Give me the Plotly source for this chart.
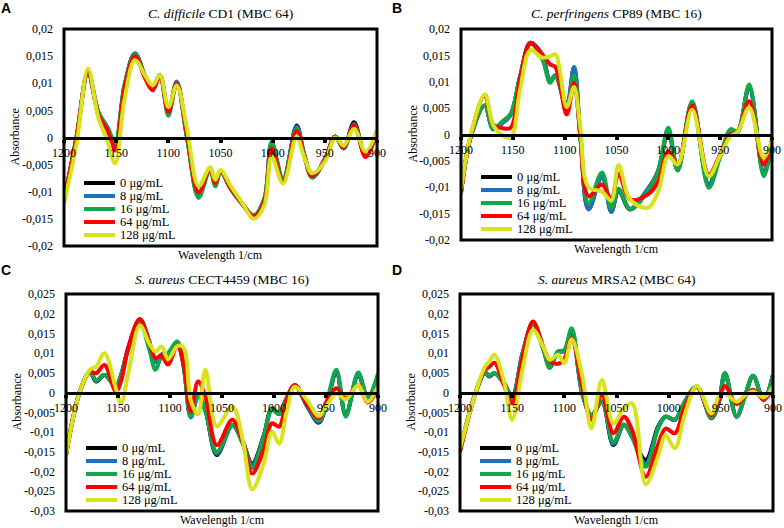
import plotly.graph_objects as go

W, H = 784, 528

conc_labels = ["0 μg/mL", "8 μg/mL", "16 μg/mL", "64 μg/mL", "128 μg/mL"]
line_colors = ["#000000", "#1f6fbf", "#12a84a", "#ff0000", "#d7e41c"]

titles = ["<i>C. difficile</i> CD1 (MBC 64)", "<i>C. perfringens</i> CP89 (MBC 16)",
          "<i>S. aureus</i> CECT4459 (MBC 16)", "<i>S. aureus</i> MRSA2 (MBC 64)"]
letters = ["A", "B", "C", "D"]

x_ticks = [1200, 1150, 1100, 1050, 1000, 950, 900]
y_ticks_ab = [0.02, 0.015, 0.01, 0.005, 0, -0.005, -0.01, -0.015, -0.02]
y_text_ab = ["0,02", "0,015", "0,01", "0,005", "0", "-0,005", "-0,01", "-0,015", "-0,02"]
y_ticks_cd = [0.025, 0.02, 0.015, 0.01, 0.005, 0, -0.005, -0.01, -0.015, -0.02, -0.025, -0.03]
y_text_cd = ["0,025", "0,02", "0,015", "0,01", "0,005", "0", "-0,005", "-0,01", "-0,015",
             "-0,02", "-0,025", "-0,03"]

# A - C. difficile CD1
wave_a = [1200, 1188, 1177, 1167, 1158, 1151, 1142, 1132, 1122, 1115, 1108, 1100, 1092, 1082, 1071, 1060, 1055,
          1050, 1040, 1030, 1018, 1008, 1001, 990, 977, 970, 962, 950, 940, 932, 922, 911, 900]
a_0 = [-0.0115, 0.0, 0.0120, 0.0046, 0.0016, -0.0017, 0.0095, 0.0155, 0.0112, 0.0091, 0.0115, 0.0047, 0.0102, 0.0,
       -0.0106, -0.0057, -0.0086, -0.0062, -0.0095, -0.0120, -0.0145, -0.0115, -0.0013, -0.0080, 0.0022, -0.0030,
       -0.0073, -0.0040, 0.0002, -0.0020, 0.0028, -0.0034, 0.0012]
a_8 = [-0.0115, 0.0, 0.0120, 0.0046, 0.0016, -0.0015, 0.0095, 0.0155, 0.0111, 0.0091, 0.0114, 0.0046, 0.0103, 0.0,
       -0.0107, -0.0057, -0.0087, -0.0062, -0.0095, -0.0121, -0.0144, -0.0114, -0.0011, -0.0078, 0.0020, -0.0030,
       -0.0074, -0.0040, 0.0002, -0.0020, 0.0025, -0.0033, 0.0012]
a_16 = [-0.0116, 0.0, 0.0119, 0.0046, 0.0018, -0.0008, 0.0097, 0.0153, 0.0110, 0.0090, 0.0113, 0.0040, 0.0100,
        -0.0002, -0.0111, -0.0058, -0.0090, -0.0063, -0.0094, -0.0120, -0.0143, -0.0112, -0.0008, -0.0075, 0.0015,
        -0.0030, -0.0073, -0.0041, 0.0002, -0.0020, 0.0022, -0.0031, 0.0012]
a_64 = [-0.0117, 0.0, 0.0121, 0.0042, 0.0012, -0.0024, 0.0090, 0.0150, 0.0108, 0.0087, 0.0113, 0.0047, 0.0099,
        0.0004, -0.0101, -0.0057, -0.0084, -0.0062, -0.0094, -0.0120, -0.0146, -0.0118, -0.0020, -0.0082, 0.0012,
        -0.0032, -0.0071, -0.0042, 0.0001, -0.0018, 0.0022, -0.0036, 0.0012]
a_128 = [-0.0122, -0.0012, 0.0127, 0.0036, -0.0008, -0.0048, 0.0070, 0.0143, 0.0113, 0.0096, 0.0115, 0.0056, 0.0096,
         0.0015, -0.0090, -0.0055, -0.0078, -0.0060, -0.0090, -0.0118, -0.0150, -0.0125, -0.0035, -0.0085, 0.0002,
         -0.0035, -0.0066, -0.0045, 0.0000, -0.0015, 0.0016, -0.0026, 0.0013]

# B - C. perfringens CP89
wave_b = [1200, 1190, 1177, 1169, 1160, 1152, 1143, 1133, 1122, 1114, 1109, 1098, 1091, 1085, 1077, 1064, 1055,
          1048, 1037, 1020, 1010, 1000, 991, 977, 961, 950, 940, 933, 922, 908, 900]
b_0 = [-0.0110, 0.0, 0.0055, 0.0010, 0.0022, 0.0038, 0.0110, 0.0174, 0.0152, 0.0101, 0.0112, 0.0057, 0.0127, 0.0,
       -0.0141, -0.0080, -0.0146, -0.0106, -0.0142, -0.0106, -0.0070, 0.0006, -0.0068, 0.0060, -0.0095, -0.0040,
       0.0000, 0.0005, 0.0090, -0.0073, -0.0010]
b_8 = [-0.0110, 0.0, 0.0055, 0.0010, 0.0022, 0.0038, 0.0110, 0.0174, 0.0151, 0.0102, 0.0112, 0.0056, 0.0128, 0.0,
       -0.0142, -0.0079, -0.0147, -0.0105, -0.0141, -0.0103, -0.0070, 0.0007, -0.0067, 0.0060, -0.0094, -0.0040,
       0.0000, 0.0005, 0.0090, -0.0072, -0.0010]
b_16 = [-0.0112, 0.0, 0.0055, 0.0012, 0.0025, 0.0040, 0.0110, 0.0172, 0.0145, 0.0098, 0.0112, 0.0050, 0.0113,
        -0.0002, -0.0130, -0.0072, -0.0140, -0.0103, -0.0141, -0.0108, -0.0070, 0.0013, -0.0068, 0.0063, -0.0101,
        -0.0042, 0.0010, 0.0006, 0.0095, -0.0079, -0.0010]
b_64 = [-0.0108, 0.0002, 0.0075, 0.0019, 0.0012, 0.0013, 0.0105, 0.0173, 0.0153, 0.0133, 0.0128, 0.0038, 0.0098,
        0.0002, -0.0117, -0.0095, -0.0123, -0.0074, -0.0123, -0.0114, -0.0090, -0.0032, -0.0057, 0.0055, -0.0076,
        -0.0038, 0.0000, 0.0005, 0.0063, -0.0057, -0.0010]
b_128 = [-0.0104, 0.0004, 0.0076, 0.0018, -0.0002, -0.0006, 0.0085, 0.0160, 0.0146, 0.0148, 0.0152, 0.0052, 0.0090,
         0.0015, -0.0100, -0.0108, -0.0125, -0.0058, -0.0123, -0.0139, -0.0110, -0.0041, -0.0057, 0.0047, -0.0079,
         -0.0040, -0.0003, 0.0005, 0.0051, -0.0044, -0.0010]

# C - S. aureus CECT4459
wave_c = [1200, 1187, 1177, 1171, 1163, 1152, 1147, 1140, 1129, 1120, 1114, 1108, 1102, 1093, 1087, 1080, 1073,
          1066, 1055, 1040, 1030, 1021, 1010, 1002, 995, 988, 980, 968, 957, 950, 940, 931, 919, 910, 900]
c_0 = [-0.0158, 0.0, 0.0053, 0.0028, 0.0045, 0.0017, 0.0045, 0.0115, 0.0186, 0.0130, 0.0079, 0.0097, 0.0090, 0.0125,
       0.0070, -0.0061, -0.0008, -0.0045, -0.0158, -0.0082, -0.0125, -0.0180, -0.0110, -0.0040, -0.0054, -0.0015,
       0.0019, -0.0035, -0.0076, -0.0035, 0.0050, -0.0055, 0.0045, -0.0010, 0.0035]
c_8 = [-0.0158, 0.0, 0.0053, 0.0029, 0.0045, 0.0016, 0.0045, 0.0114, 0.0184, 0.0128, 0.0077, 0.0096, 0.0092, 0.0126,
       0.0070, -0.0063, -0.0008, -0.0045, -0.0155, -0.0083, -0.0127, -0.0184, -0.0112, -0.0042, -0.0054, -0.0015,
       0.0019, -0.0034, -0.0074, -0.0034, 0.0052, -0.0057, 0.0047, -0.0012, 0.0040]
c_16 = [-0.0158, 0.0, 0.0053, 0.0032, 0.0045, 0.0015, 0.0045, 0.0110, 0.0176, 0.0110, 0.0058, 0.0092, 0.0100,
        0.0130, 0.0070, -0.0060, -0.0008, -0.0045, -0.0150, -0.0082, -0.0130, -0.0192, -0.0113, -0.0044, -0.0054,
        -0.0015, 0.0019, -0.0030, -0.0070, -0.0030, 0.0058, -0.0061, 0.0051, -0.0014, 0.0049]
c_64 = [-0.0158, 0.0, 0.0053, 0.0049, 0.0070, 0.0003, 0.0030, 0.0115, 0.0186, 0.0128, 0.0088, 0.0093, 0.0071,
        0.0119, 0.0075, -0.0048, 0.0028, -0.0010, -0.0133, -0.0069, -0.0125, -0.0205, -0.0145, -0.0078, -0.0086,
        -0.0020, 0.0019, -0.0030, -0.0065, -0.0025, 0.0011, -0.0014, 0.0019, -0.0025, 0.0010]
c_128 = [-0.0158, 0.0, 0.0058, 0.0066, 0.0100, 0.0010, -0.0027, 0.0050, 0.0170, 0.0125, 0.0104, 0.0117, 0.0085,
         0.0118, 0.0115, -0.0020, -0.0055, 0.0058, -0.0085, -0.0035, -0.0120, -0.0245, -0.0180, -0.0099, -0.0129,
         -0.0050, 0.0015, -0.0020, -0.0060, -0.0035, -0.0002, -0.0017, 0.0019, -0.0023, 0.0015]

# D - S. aureus MRSA2
wave_d = [1200, 1185, 1176, 1172, 1167, 1158, 1150, 1140, 1130, 1120, 1114, 1106, 1100, 1093, 1083, 1074, 1064,
          1053, 1043, 1035, 1022, 1010, 1003, 994, 985, 973, 959, 952, 946, 935, 927, 919, 909, 900]
d_0 = [-0.0145, 0.0, 0.0051, 0.0041, 0.0049, 0.0025, -0.0010, 0.0100, 0.0176, 0.0110, 0.0066, 0.0104, 0.0105,
       0.0155, 0.0, -0.0057, -0.0023, -0.0133, -0.0082, -0.0110, -0.0171, -0.0085, -0.0061, -0.0069, -0.0025, 0.0015,
       -0.0065, -0.0025, 0.0049, -0.0061, -0.0010, 0.0042, -0.0019, 0.0045]
d_8 = [-0.0145, 0.0, 0.0051, 0.0042, 0.0050, 0.0025, -0.0012, 0.0100, 0.0175, 0.0110, 0.0065, 0.0104, 0.0106,
       0.0158, 0.0, -0.0058, -0.0023, -0.0130, -0.0082, -0.0112, -0.0180, -0.0088, -0.0061, -0.0069, -0.0025, 0.0015,
       -0.0064, -0.0024, 0.0049, -0.0061, -0.0010, 0.0043, -0.0019, 0.0045]
d_16 = [-0.0145, 0.0, 0.0052, 0.0043, 0.0050, 0.0024, -0.0019, 0.0098, 0.0172, 0.0108, 0.0062, 0.0103, 0.0108,
        0.0163, 0.0002, -0.0058, -0.0022, -0.0125, -0.0080, -0.0114, -0.0188, -0.0090, -0.0061, -0.0068, -0.0025,
        0.0015, -0.0063, -0.0024, 0.0049, -0.0061, -0.0010, 0.0042, -0.0019, 0.0045]
d_64 = [-0.0150, 0.0, 0.0058, 0.0065, 0.0076, 0.0020, -0.0027, 0.0090, 0.0180, 0.0115, 0.0080, 0.0073, 0.0085,
        0.0138, 0.0020, -0.0069, -0.0006, -0.0103, -0.0061, -0.0095, -0.0213, -0.0130, -0.0091, -0.0103, -0.0040,
        0.0015, -0.0057, -0.0020, 0.0017, -0.0029, -0.0010, 0.0007, -0.0017, 0.0011]
d_128 = [-0.0141, 0.0, 0.0066, 0.0078, 0.0096, 0.0030, -0.0069, 0.0060, 0.0159, 0.0115, 0.0083, 0.0096, 0.0075,
         0.0135, 0.0045, -0.0090, 0.0032, -0.0078, -0.0040, -0.0027, -0.0232, -0.0160, -0.0108, -0.0141, -0.0060,
         0.0017, -0.0053, -0.0010, -0.0002, -0.0023, -0.0008, 0.0003, -0.0012, 0.0015]

panels = [
    (wave_a, [a_0, a_8, a_16, a_64, a_128]),
    (wave_b, [b_0, b_8, b_16, b_64, b_128]),
    (wave_c, [c_0, c_8, c_16, c_64, c_128]),
    (wave_d, [d_0, d_8, d_16, d_64, d_128]),
]

# plot frames in pixels: left, top, right, bottom
boxes = [(64, 29, 377, 246), (461, 29, 772, 240), (66, 294, 378, 511), (460, 294, 773, 511)]
letter_pos = [(6, 8), (397, 8), (6, 270), (397, 270)]

SERIF = "Liberation Serif"
SANS = "Liberation Sans"

fig = go.Figure()
layout = {}
shapes = []
annotations = []

for i, (waves, series) in enumerate(panels):
    n = i + 1
    xa = "x" if n == 1 else f"x{n}"
    ya = "y" if n == 1 else f"y{n}"
    l, t, r, b = boxes[i]
    xdom = [l / W, r / W]
    ydom = [1 - b / H, 1 - t / H]
    if i < 2:
        yr, yv, yt = [-0.02, 0.02], y_ticks_ab, y_text_ab
    else:
        yr, yv, yt = [-0.03, 0.025], y_ticks_cd, y_text_cd
    zero_pos = ydom[0] + (0 - yr[0]) / (yr[1] - yr[0]) * (ydom[1] - ydom[0])

    for k, vals in enumerate(series):
        fig.add_trace(go.Scatter(
            x=waves, y=vals, mode="lines", name=conc_labels[k],
            line=dict(color=line_colors[k], width=4, shape="spline", smoothing=1.0),
            xaxis=xa, yaxis=ya, showlegend=False, hoverinfo="skip"))

    layout["xaxis" if n == 1 else f"xaxis{n}"] = dict(
        domain=xdom, range=[1200, 900], anchor="free", position=zero_pos, automargin=False,
        showline=True, linecolor="black", linewidth=3, showgrid=False, zeroline=False,
        tickvals=x_ticks, ticks="outside", ticklen=3, tickwidth=4, tickcolor="black",
        tickfont=dict(family=SERIF, size=12, color="black"))
    layout["yaxis" if n == 1 else f"yaxis{n}"] = dict(
        domain=ydom, range=yr, anchor=xa, automargin=False, showline=False, showgrid=False, zeroline=False,
        tickvals=yv, ticktext=yt, ticks="", ticklabelstandoff=10,
        tickfont=dict(family=SERIF, size=12, color="black"))

    # frame
    shapes.append(dict(type="rect", xref=f"{xa} domain", yref=f"{ya} domain", x0=0, x1=1, y0=0, y1=1,
                       line=dict(color="black", width=3), layer="above"))

    cx = (xdom[0] + xdom[1]) / 2
    annotations.append(dict(text=titles[i], x=cx, y=1 - (t - 15) / H, xref="paper", yref="paper",
                            xanchor="center", yanchor="middle", showarrow=False,
                            font=dict(family=SERIF, size=13.5, color="black")))
    annotations.append(dict(text="Wavelength 1/cm", x=cx, y=1 - (b + 9) / H, xref="paper", yref="paper",
                            xanchor="center", yanchor="middle", showarrow=False,
                            font=dict(family=SERIF, size=12, color="black")))
    annotations.append(dict(text="Absorbance", x=(l - 49) / W, y=(ydom[0] + ydom[1]) / 2, xref="paper",
                            yref="paper", xanchor="center", yanchor="middle", textangle=-90, showarrow=False,
                            font=dict(family=SERIF, size=12, color="black")))
    lx, ly = letter_pos[i]
    annotations.append(dict(text="<b>" + letters[i] + "</b>", x=lx / W, y=1 - ly / H, xref="paper", yref="paper",
                            xanchor="center", yanchor="middle", showarrow=False,
                            font=dict(family=SANS, size=14, color="black")))

    # legend drawn inside the lower-left corner of each frame
    for k in range(5):
        py = b - 11 - 13 * (4 - k)
        shapes.append(dict(type="line", xref="paper", yref="paper",
                           x0=(l + 20) / W, x1=(l + 51) / W, y0=1 - py / H, y1=1 - py / H,
                           line=dict(color=line_colors[k], width=4)))
        annotations.append(dict(text=conc_labels[k], x=(l + 54) / W, y=1 - py / H, xref="paper", yref="paper",
                                xanchor="left", yanchor="middle", showarrow=False,
                                font=dict(family=SERIF, size=12.5, color="black")))

fig.update_layout(
    template="none",
    width=W, height=H,
    margin=dict(l=0, r=0, t=0, b=0, autoexpand=False),
    paper_bgcolor="white", plot_bgcolor="white",
    showlegend=False,
    shapes=shapes, annotations=annotations,
    **layout)

# the page has a default body margin; drop it so the figure starts at the window corner
fig.write_html("out.html", config={"displayModeBar": False},
               post_script="document.body.style.margin='0';")
